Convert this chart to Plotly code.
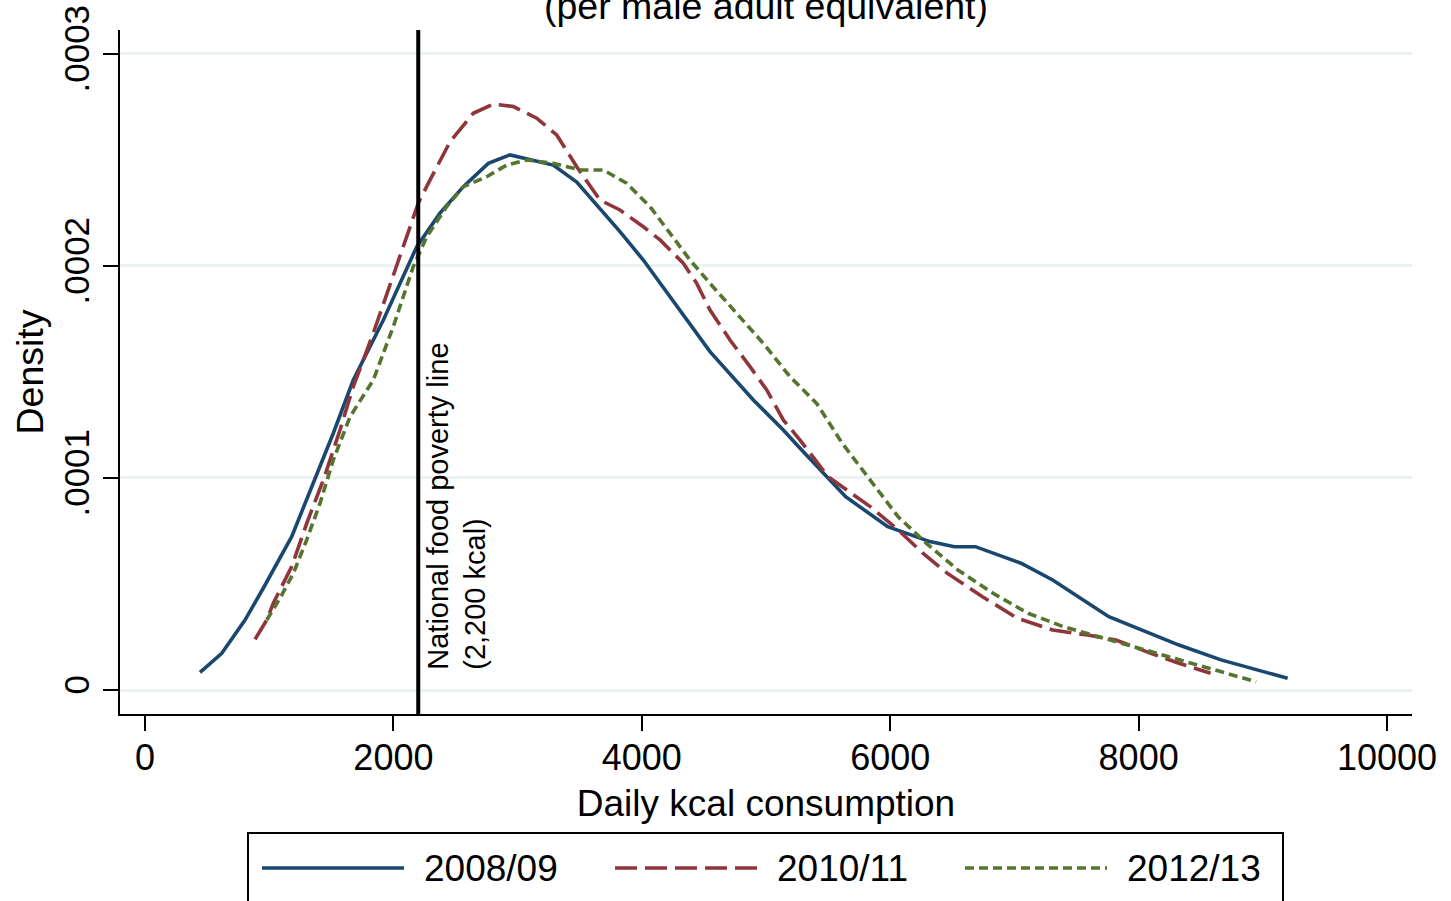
import plotly.graph_objects as go

# ---------------- data ----------------
series_names = ["2008/09", "2010/11", "2012/13"]

x_2008 = [443, 618, 805, 952, 1181, 1356, 1516, 1677, 1919, 2188, 2375, 2563, 2764, 2939,
          3287, 3476, 3824, 4012, 4549, 4898, 5139, 5274, 5641, 5980, 6319, 6517, 6686,
          7053, 7308, 7760, 8325, 8663, 9200]
y_2008 = [0.0835e-4, 0.173e-4, 0.330e-4, 0.480e-4, 0.723e-4, 0.975e-4, 1.211e-4, 1.462e-4,
          1.745e-4, 2.091e-4, 2.249e-4, 2.374e-4, 2.484e-4, 2.524e-4, 2.476e-4, 2.396e-4,
          2.162e-4, 2.028e-4, 1.596e-4, 1.368e-4, 1.226e-4, 1.140e-4, 0.912e-4, 0.770e-4,
          0.700e-4, 0.676e-4, 0.676e-4, 0.598e-4, 0.519e-4, 0.346e-4, 0.212e-4, 0.142e-4,
          0.055e-4]

x_2010 = [886, 980, 1033, 1181, 1302, 1436, 1570, 1677, 1838, 2027, 2200, 2295, 2456, 2643,
          2804, 2966, 3154, 3315, 3476, 3663, 3824, 4012, 4147, 4334, 4442, 4549, 4710,
          4871, 5006, 5139, 5274, 5499, 5839, 6064, 6263, 6461, 6743, 7025, 7308, 7590,
          7816, 8099, 8325, 8579]
y_2010 = [0.239e-4, 0.330e-4, 0.409e-4, 0.582e-4, 0.786e-4, 0.991e-4, 1.226e-4, 1.431e-4,
          1.683e-4, 1.997e-4, 2.296e-4, 2.406e-4, 2.586e-4, 2.720e-4, 2.764e-4, 2.752e-4,
          2.697e-4, 2.618e-4, 2.468e-4, 2.311e-4, 2.264e-4, 2.185e-4, 2.123e-4, 2.013e-4,
          1.918e-4, 1.792e-4, 1.651e-4, 1.525e-4, 1.415e-4, 1.274e-4, 1.179e-4, 1.006e-4,
          0.865e-4, 0.755e-4, 0.645e-4, 0.550e-4, 0.440e-4, 0.338e-4, 0.283e-4, 0.259e-4,
          0.236e-4, 0.173e-4, 0.126e-4, 0.079e-4]

x_2012 = [980, 1087, 1194, 1302, 1409, 1516, 1651, 1838, 1999, 2160, 2268, 2429, 2563, 2751,
          2912, 3073, 3287, 3502, 3690, 3878, 4066, 4227, 4388, 4549, 4764, 4978, 5193,
          5408, 5613, 5839, 6064, 6291, 6545, 6828, 7110, 7393, 7675, 7957, 8240, 8522, 8946]
y_2012 = [0.330e-4, 0.433e-4, 0.550e-4, 0.708e-4, 0.881e-4, 1.085e-4, 1.289e-4, 1.462e-4,
          1.714e-4, 1.997e-4, 2.138e-4, 2.280e-4, 2.374e-4, 2.421e-4, 2.476e-4, 2.500e-4,
          2.484e-4, 2.453e-4, 2.453e-4, 2.390e-4, 2.280e-4, 2.154e-4, 2.028e-4, 1.918e-4,
          1.777e-4, 1.635e-4, 1.478e-4, 1.352e-4, 1.164e-4, 0.991e-4, 0.817e-4, 0.692e-4,
          0.566e-4, 0.456e-4, 0.362e-4, 0.299e-4, 0.251e-4, 0.204e-4, 0.157e-4, 0.110e-4,
          0.039e-4]

poverty_line_kcal = 2200
poverty_label = "National food poverty line<br>(2,200 kcal)"

x_tick_vals = [0, 2000, 4000, 6000, 8000, 10000]
x_tick_text = ["0", "2000", "4000", "6000", "8000", "10000"]
y_tick_vals = [0, 0.0001, 0.0002, 0.0003]
y_tick_text = ["0", ".0001", ".0002", ".0003"]

title_text = "(per male adult equivalent)"
x_title = "Daily kcal consumption"
y_title = "Density"

# ---------------- styles ----------------
colors = ["#1a476f", "#90353b", "#55752f"]
dashes = ["solid", "22px,8px", "9px,5px"]
FONT = "Liberation Sans, Arial, sans-serif"

W, H = 1451, 901
ML, MR, MT, MB = 120, 39, 30, 187
PW, PH = W - ML - MR, H - MT - MB


def px2paper_x(px):
    return (px - ML) / PW


def px2paper_y(py):
    return (H - MB - py) / PH


fig = go.Figure()
for xs, ys, name, c, d in zip([x_2008, x_2010, x_2012], [y_2008, y_2010, y_2012],
                              series_names, colors, dashes):
    fig.add_trace(go.Scatter(x=xs, y=ys, mode="lines", name=name,
                             line=dict(color=c, width=3.6, dash=d), showlegend=False))

# poverty line
fig.add_shape(type="line", xref="x", yref="paper", x0=poverty_line_kcal, x1=poverty_line_kcal,
              y0=0, y1=1, line=dict(color="black", width=4), layer="above")

fig.add_annotation(x=poverty_line_kcal, xref="x", y=px2paper_y(672), yref="paper",
                   text=poverty_label, textangle=-90, align="left", showarrow=False,
                   xanchor="left", yanchor="bottom", xshift=1,
                   font=dict(family=FONT, size=29, color="black"))

# title (partially cut off at top, as in the reference)
fig.add_annotation(x=0.5, xref="paper", y=px2paper_y(6), yref="paper", text=title_text,
                   showarrow=False, xanchor="center", yanchor="middle",
                   font=dict(family=FONT, size=37.5, color="black"))

# custom legend
legend_left, legend_right, legend_top, legend_bottom = 248, 1283, 833, 940
fig.add_shape(type="rect", xref="paper", yref="paper",
              x0=px2paper_x(legend_left), x1=px2paper_x(legend_right),
              y0=px2paper_y(legend_bottom), y1=px2paper_y(legend_top),
              line=dict(color="black", width=2), fillcolor="white", layer="above")
sample_starts = [262, 615, 965]
sample_len = 142
text_gap = 18
legend_y = 868
for name, c, d, sx in zip(series_names, colors, dashes, sample_starts):
    fig.add_shape(type="line", xref="paper", yref="paper",
                  x0=px2paper_x(sx), x1=px2paper_x(sx + sample_len),
                  y0=px2paper_y(legend_y), y1=px2paper_y(legend_y),
                  line=dict(color=c, width=3.6, dash=d), layer="above")
    fig.add_annotation(x=px2paper_x(sx + sample_len + text_gap), xref="paper",
                       y=px2paper_y(legend_y), yref="paper", text=name, showarrow=False,
                       xanchor="left", yanchor="middle",
                       font=dict(family=FONT, size=37, color="black"))

fig.update_layout(
    width=W, height=H,
    margin=dict(l=ML, r=MR, t=MT, b=MB, pad=0, autoexpand=False),
    paper_bgcolor="white", plot_bgcolor="white",
    font=dict(family=FONT, color="black"),
    showlegend=False,
)
fig.update_xaxes(range=[-201.3, 10201], tickvals=x_tick_vals, ticktext=x_tick_text,
                 automargin=False,
                 showgrid=False, zeroline=False, showline=True, linecolor="black", linewidth=2,
                 ticks="outside", ticklen=15, tickwidth=2, tickcolor="black",
                 ticklabelstandoff=-4,
                 tickfont=dict(family=FONT, size=36),
                 title=dict(text=x_title, font=dict(family=FONT, size=37), standoff=13))
fig.update_yaxes(range=[-1.132e-5, 3.113e-4], tickvals=y_tick_vals, ticktext=y_tick_text,
                 automargin=False,
                 tickangle=-90, showgrid=True, gridcolor="#eaf2f3", gridwidth=3,
                 zeroline=False, showline=True, linecolor="black", linewidth=2,
                 ticks="outside", ticklen=15, tickwidth=2, tickcolor="black",
                 tickfont=dict(family=FONT, size=35),
                 title=dict(text=y_title, font=dict(family=FONT, size=37.5), standoff=2))

fig.write_html("out.html",
               config={"displayModeBar": False},
               post_script="document.body.style.margin='0';document.body.style.overflow='hidden';")
